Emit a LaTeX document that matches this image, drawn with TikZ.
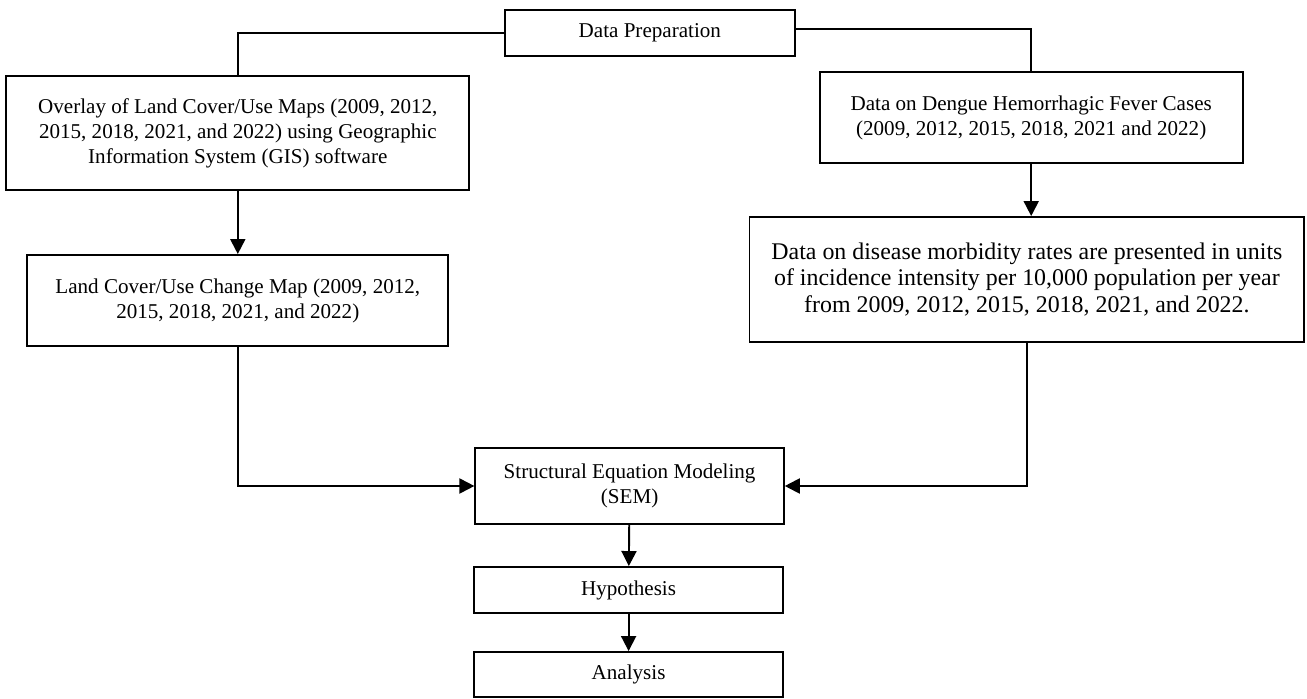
\documentclass[tikz,border=0pt]{standalone}
\usepackage{fontspec}
\setmainfont{Liberation Serif}
\usetikzlibrary{shapes, arrows.meta}

\begin{document}
\begin{tikzpicture}[
				x=0.02cm, y=-0.02cm,
				font=\fontsize{12}{14.2}\selectfont,
				phase/.style={draw, line width=1.1pt, align=center, inner sep=0pt},
				flow/.style={-{Triangle[length=0.3cm,width=0.3cm]}, line width=1.1pt},
				link/.style={line width=1.1pt},
				every node/.style={anchor=center}
				]
				
				\useasboundingbox (0,0) rectangle (1307,699);
				
				\node[phase, minimum width=5.79cm, minimum height=0.92cm] (prep) at (649.8,33) {Data Preparation};
				\node[phase, minimum width=9.26cm, minimum height=2.28cm] (overlay) at (237.8,133)
					{Overlay of Land Cover/Use Maps (2009, 2012,\\ 2015, 2018, 2021, and 2022) using Geographic\\ Information System (GIS) software};
				\node[phase, minimum width=8.42cm, minimum height=1.82cm] (change) at (237.8,300.5)
					{Land Cover/Use Change Map (2009, 2012,\\ 2015, 2018, 2021, and 2022)};
				\node[phase, minimum width=8.46cm, minimum height=1.82cm] (dengue) at (1031.2,117.5)
					{Data on Dengue Hemorrhagic Fever Cases\\ (2009, 2012, 2015, 2018, 2021 and 2022)};
				\node[phase, minimum width=11.1cm, minimum height=2.5cm, font=\fontsize{13.6}{15.3}\selectfont] (morb) at (1026.9,279.5)
					{Data on disease morbidity rates are presented in units\\ of incidence intensity per 10,000 population per year\\ from 2009, 2012, 2015, 2018, 2021, and 2022.};
				\node[phase, minimum width=6.17cm, minimum height=1.52cm] (sem) at (629.6,486)
					{Structural Equation Modeling\\ (SEM)};
				\node[phase, minimum width=6.17cm, minimum height=0.92cm] (hyp) at (628.6,590) {Hypothesis};
				\node[phase, minimum width=6.17cm, minimum height=0.9cm] (anal) at (628.6,674.5) {Analysis};
				
				\draw[link] (prep.west) -| (overlay.north);
				\draw[link] ([yshift=0.08cm]prep.east) -| (dengue.north);
				\draw[flow] (overlay) -- (change);
				\draw[flow] (dengue.south) -- (dengue.south |- morb.north);
				\draw[flow] (change.south) |- (sem.west);
				\draw[flow] (morb.south) |- (sem.east);
				\draw[flow] (sem) -- (hyp);
				\draw[flow] (hyp) -- (anal);
				\end{tikzpicture}
\end{document}
